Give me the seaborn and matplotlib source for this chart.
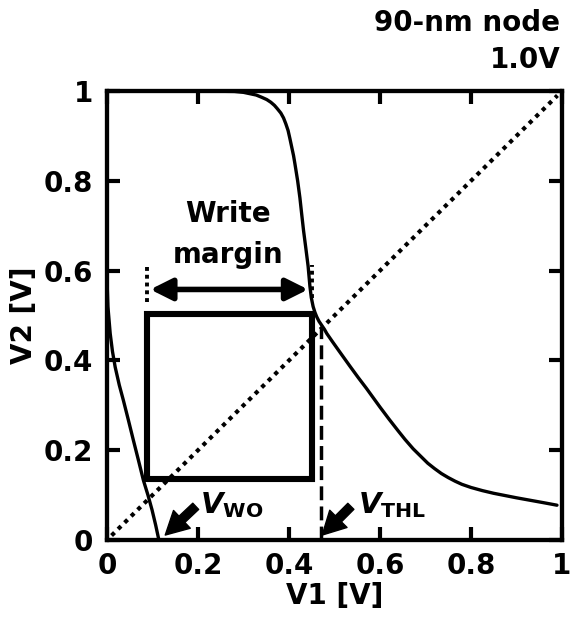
import numpy as np
import pandas as pd
import seaborn as sns
import matplotlib.pyplot as plt

# curva de transferência do inversor (lado direito, "escrita")
v1_a = [0.0, 0.2, 0.28, 0.3, 0.314, 0.328, 0.34, 0.351, 0.36, 0.368, 0.374,
        0.382, 0.388, 0.393, 0.398, 0.402, 0.406, 0.41, 0.413, 0.416, 0.419,
        0.424, 0.428, 0.432, 0.437, 0.442, 0.446, 0.449, 0.453, 0.457, 0.461,
        0.466, 0.472, 0.478, 0.483, 0.496, 0.51, 0.522, 0.534, 0.552, 0.57,
        0.585, 0.6, 0.62, 0.64, 0.655, 0.673, 0.69, 0.705, 0.72, 0.735, 0.75,
        0.765, 0.78, 0.8, 0.825, 0.85, 0.875, 0.9, 0.93, 0.96, 0.989]
v2_a = [1.0, 1.0, 0.999, 0.997, 0.994, 0.991, 0.986, 0.981, 0.975, 0.968, 0.961,
        0.951, 0.94, 0.927, 0.912, 0.894, 0.875, 0.856, 0.838, 0.819, 0.8,
        0.762, 0.725, 0.689, 0.65, 0.61, 0.565, 0.54, 0.52, 0.507, 0.497,
        0.487, 0.478, 0.469, 0.46, 0.441, 0.421, 0.404, 0.387, 0.362, 0.338,
        0.317, 0.296, 0.269, 0.243, 0.224, 0.203, 0.186, 0.171, 0.159, 0.148,
        0.139, 0.131, 0.124, 0.117, 0.11, 0.104, 0.099, 0.094, 0.0885, 0.083,
        0.0775]

# curva do lado esquerdo
v1_b = [0.0, 0.002, 0.007, 0.012, 0.018, 0.027, 0.036, 0.047, 0.058, 0.069,
        0.08, 0.09, 0.099, 0.107, 0.114]
v2_b = [0.58, 0.52, 0.46, 0.42, 0.385, 0.345, 0.311, 0.267, 0.222, 0.178,
        0.133, 0.1, 0.067, 0.033, 0.0]

# diagonal V1 = V2
v1_diag = [0.01, 0.99]
v2_diag = [0.01, 0.99]

# quadrado da margem de escrita
box_v1 = [0.088, 0.45, 0.45, 0.088, 0.088]
box_v2 = [0.136, 0.136, 0.504, 0.504, 0.136]

margin_left, margin_right = 0.088, 0.45
margin_y = 0.558
vwo, vthl = 0.115, 0.47

ticks = [0, 0.2, 0.4, 0.6, 0.8, 1]
tick_labels = ['0', '0.2', '0.4', '0.6', '0.8', '1']

sns.set_theme(style='ticks')
plt.rcParams['font.family'] = ['DejaVu Sans']
plt.rcParams['font.weight'] = 'bold'
plt.rcParams['text.color'] = 'black'
plt.rcParams['axes.labelcolor'] = 'black'
plt.rcParams['mathtext.fontset'] = 'custom'
plt.rcParams['mathtext.it'] = 'DejaVu Sans:italic:bold'
plt.rcParams['mathtext.rm'] = 'DejaVu Sans:bold'
plt.rcParams['mathtext.bf'] = 'DejaVu Sans:bold'

fig = plt.figure(figsize=(5.71, 6.25), dpi=100)
ax = fig.add_axes([0.1874, 0.136, 0.7968, 0.7184])

sns.lineplot(x=v1_a, y=v2_a, ax=ax, color='black', lw=2.4, sort=False, estimator=None)
sns.lineplot(x=v1_b, y=v2_b, ax=ax, color='black', lw=2.4, sort=False, estimator=None)
ax.plot(v1_diag, v2_diag, color='black', lw=3, dashes=(1, 1.2), dash_capstyle='butt')
ax.plot(box_v1, box_v2, color='black', lw=4.4, solid_joinstyle='miter')

# linhas auxiliares
ax.plot([margin_left, margin_left], [0.53, 0.612], color='black', lw=2.8, dashes=(1, 1))
ax.plot([margin_right, margin_right], [0.54, 0.612], color='black', lw=2.8, dashes=(1, 1))
ax.plot([vthl, vthl], [0.0, 0.475], color='black', lw=2.5, dashes=(4, 1.8))

ax.annotate('', xy=(0.442, margin_y), xytext=(0.095, margin_y),
            arrowprops=dict(arrowstyle='<|-|>,head_length=0.6,head_width=0.3',
                            lw=4, color='black', mutation_scale=22,
                            shrinkA=0, shrinkB=0))
ax.text(0.267, 0.618, 'Write\nmargin', ha='center', va='baseline',
        fontsize=20, fontweight='bold', linespacing=1.55)

arrow_kw = dict(arrowstyle='simple,head_length=0.75,head_width=0.8,tail_width=0.28',
                color='black', mutation_scale=22, shrinkA=0, shrinkB=0)
ax.annotate('', xy=(vwo + 0.013, 0.011), xytext=(0.195, 0.075), arrowprops=arrow_kw)
ax.annotate('', xy=(vthl + 0.003, 0.011), xytext=(0.536, 0.075), arrowprops=arrow_kw)
ax.text(0.205, 0.06, r'$\mathit{V}_{\mathrm{WO}}$', fontsize=21, ha='left', va='baseline')
ax.text(0.552, 0.06, r'$\mathit{V}_{\mathrm{THL}}$', fontsize=21, ha='left', va='baseline')

ax.set_xlim(0, 1)
ax.set_ylim(0, 1)
ax.set_xticks(ticks)
ax.set_xticklabels(tick_labels)
ax.set_yticks(ticks)
ax.set_yticklabels(tick_labels)
ax.tick_params(direction='in', length=9.5, width=3, top=True, right=True,
               labelsize=20, color='black', labelcolor='black')
ax.tick_params(axis='x', pad=9)
ax.tick_params(axis='y', pad=10)
for s in ax.spines.values():
    s.set_linewidth(3.1)
    s.set_color('black')
    s.set_visible(True)

ax.set_xlabel('V1 [V]', fontsize=20, fontweight='bold', labelpad=1)
ax.set_ylabel('V2 [V]', fontsize=20, fontweight='bold', labelpad=4)

fig.text(0.981, 0.985, '90-nm node\n1.0V', ha='right', va='top', fontsize=20,
         fontweight='bold', linespacing=1.4)

fig.savefig('out.png', dpi=100, facecolor='white')
